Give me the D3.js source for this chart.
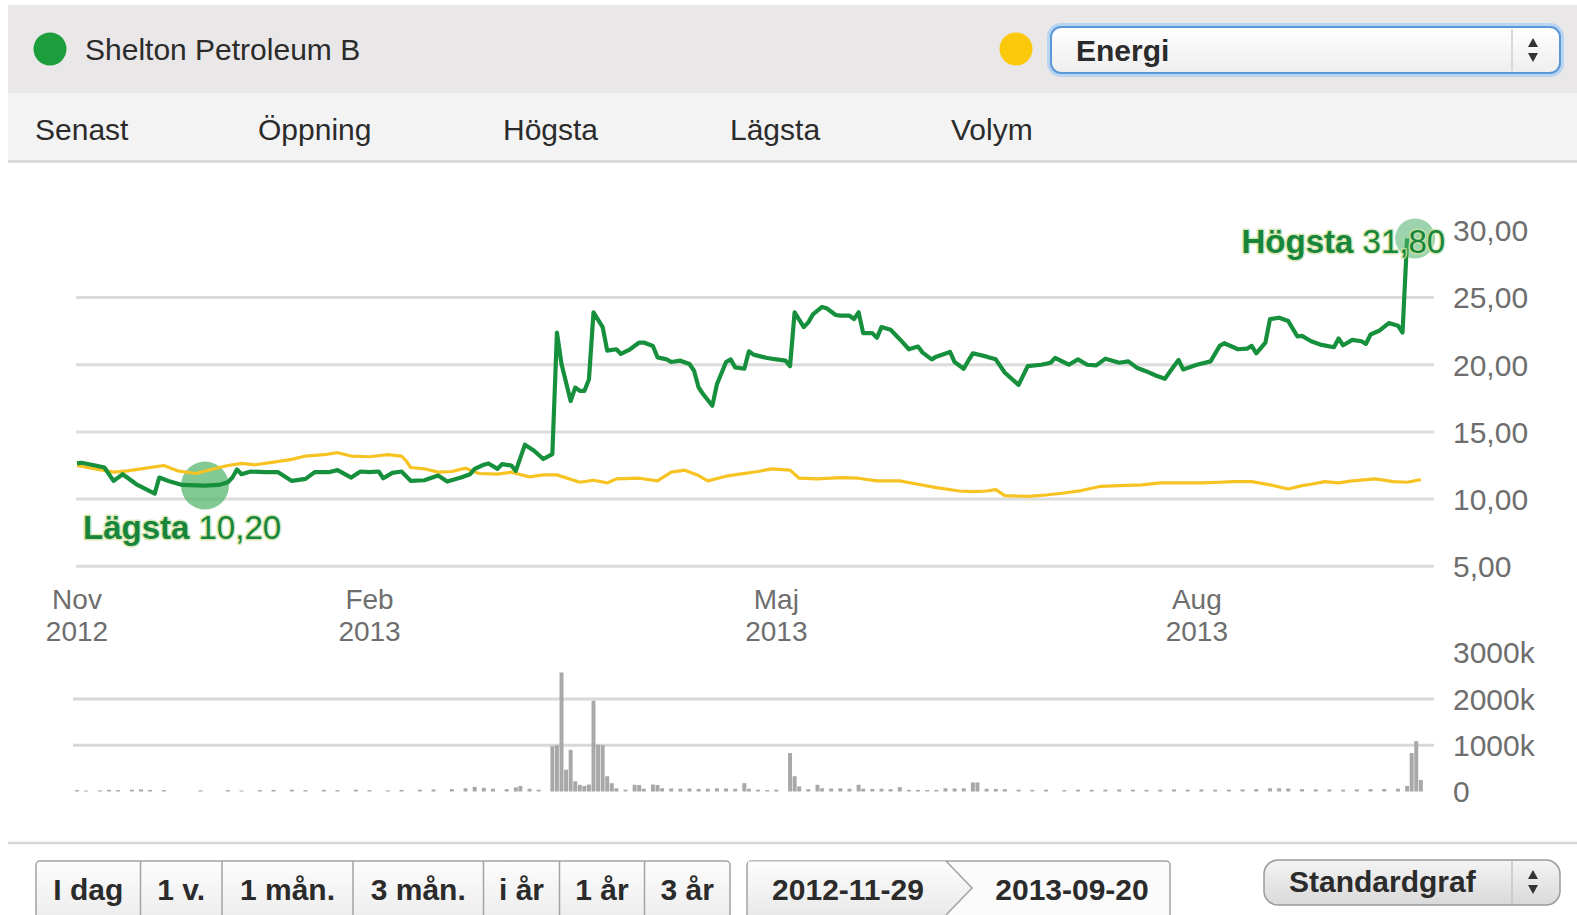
<!DOCTYPE html>
<html><head><meta charset="utf-8">
<script src="https://cdn.jsdelivr.net/npm/d3@7"></script>
<style>
html,body{margin:0;padding:0;background:#fff;}
svg{display:block;font-family:"Liberation Sans",Arial,Helvetica,sans-serif;}
</style></head><body>
<svg id="c" width="1577" height="915"></svg>
<script>
// ---------- data ----------
const startDate = "2012-11-29";
const endDate = "2013-09-20";
const stockName = "Shelton Petroleum B";
const indexName = "Energi";
const statLabels = ["Senast", "Öppning", "Högsta", "Lägsta", "Volym"];
const xTickDates = ["2012-11-29", "2013-02-01", "2013-05-01", "2013-08-01"];
const xTickMonths = ["Nov", "Feb", "Maj", "Aug"];
const xTickYears = ["2012", "2013", "2013", "2013"];
const priceTicks = [5, 10, 15, 20, 25, 30];
const priceGrid = [5, 10, 15, 20, 25];
const volumeTicks = [0, 1000, 2000, 3000];
const volumeGrid = [1000, 2000];

// day offsets from startDate, closing prices (SEK)
const greenDays = [0,1,4,6,8,10,13,17,18,20,23,28,31,33,34,35,36,38,41,44,47,50,52,55,57,60,62,64,66,67,69,71,73,76,79,81,84,86,87,89,90,92,93,95,96,98,100,102,104,105,106,108,109,110,111,112,113,115,116,118,119,121,123,124,126,127,129,130,132,134,135,136,137,139,140,142,143,144,146,147,148,151,153,155,156,157,159,160,161,163,164,166,167,169,170,171,172,174,175,176,178,180,182,184,185,187,188,191,192,194,195,196,199,201,203,206,208,211,213,214,217,219,221,223,225,228,230,232,234,236,238,240,241,242,245,248,250,251,253,254,256,257,258,260,261,263,265,267,268,270,272,275,276,277,279,281,282,283,285,287,289,290,291];
const greenClose = [12.65,12.7,12.5,12.35,11.35,11.85,11.1,10.4,11.6,11.35,11.05,11.0,11.05,11.25,11.6,12.2,11.85,12.05,12.0,12.0,11.35,11.5,12.0,12.0,12.15,11.6,12.05,12.0,12.05,11.55,11.95,12.05,11.35,11.4,11.75,11.3,11.6,11.85,12.25,12.55,12.65,12.25,12.6,12.5,12.1,14.05,13.6,12.98,13.35,22.4,20.05,17.3,18.3,18.05,18.05,18.9,23.9,22.8,21.05,21.15,20.8,21.15,21.65,21.65,21.4,20.55,20.4,20.2,20.3,20.05,19.55,18.3,17.8,16.95,18.55,20.2,20.4,19.8,19.7,21.0,20.75,20.5,20.4,20.3,19.9,23.9,22.8,23.15,23.75,24.3,24.2,23.7,23.65,23.65,23.4,23.9,22.35,22.35,22.0,22.8,22.6,21.9,21.15,21.35,20.9,20.4,20.6,20.95,20.2,19.7,20.3,20.85,20.6,20.4,19.4,18.5,19.9,20.0,20.15,20.5,20.0,20.4,20.0,19.95,20.45,20.15,20.25,19.75,19.5,19.2,18.95,19.9,20.35,19.65,20.0,20.25,21.4,21.6,21.3,21.15,21.2,21.4,20.85,21.65,23.4,23.5,23.25,22.1,22.15,21.75,21.5,21.3,21.95,21.45,21.85,21.75,21.55,22.25,22.55,23.1,22.9,22.4,29.4];

const yellowDays = [0,4,8,11,14,19,22,26,30,33,36,39,43,47,50,54,57,60,64,68,71,72,73,76,79,82,85,88,92,95,99,102,105,110,113,116,118,123,127,130,133,136,138,142,145,149,152,156,158,162,167,171,175,180,184,188,193,196,199,201,203,208,212,216,220,224,228,233,237,241,246,250,253,257,261,265,268,270,273,276,279,284,288,291,294];
const yellowClose = [12.5,12.25,12.0,12.1,12.25,12.5,12.1,11.9,12.25,12.5,12.65,12.55,12.75,12.95,13.2,13.3,13.45,13.2,13.15,13.3,13.2,12.85,12.35,12.25,12.0,12.05,12.3,11.9,11.85,12.0,11.65,11.8,11.8,11.25,11.4,11.2,11.5,11.55,11.35,12.0,12.15,11.75,11.35,11.7,11.85,12.05,12.25,12.15,11.55,11.5,11.6,11.55,11.35,11.35,11.1,10.85,10.6,10.55,10.6,10.7,10.25,10.2,10.3,10.45,10.65,10.95,11.0,11.05,11.2,11.2,11.2,11.25,11.3,11.3,11.05,10.75,11.0,11.1,11.3,11.2,11.35,11.5,11.3,11.25,11.45];

// traded volume (thousands of shares)
const volumeDays = [0,2,5,7,9,12,14,16,19,27,33,36,40,43,47,50,54,57,61,64,68,71,75,78,82,85,87,89,91,94,96,97,99,101,104,105,106,107,108,109,110,111,112,113,114,115,116,117,118,120,122,123,124,126,127,128,130,132,134,136,138,140,142,144,146,147,149,151,153,156,157,158,160,162,163,165,167,169,171,172,174,176,178,180,182,184,186,188,190,192,194,196,197,199,201,203,206,209,212,216,219,222,225,228,231,234,237,240,243,246,249,252,255,258,261,263,265,268,271,274,277,280,283,286,289,291,292,293,294];
const volumeK = [30,20,25,35,30,40,45,35,30,25,30,20,30,35,40,30,35,30,40,30,25,35,40,45,50,70,100,80,60,50,90,120,60,40,980,1000,2570,470,900,220,145,120,150,1960,1010,1000,330,180,70,40,145,140,60,150,140,70,65,60,65,55,60,70,65,60,180,60,40,30,40,830,330,110,50,145,70,65,70,60,145,60,55,60,50,95,35,35,30,35,70,65,70,195,195,60,55,50,40,35,40,30,40,35,40,45,40,35,40,45,40,45,40,40,45,50,70,70,65,50,45,45,40,45,50,55,60,120,830,1087,250];

const lowMark = {day: 28, label: "Lägsta", value: "10,20"};
const highMark = {day: 291, label: "Högsta", value: "31,80"};
const rangeButtons = ["I dag", "1 v.", "1 mån.", "3 mån.", "i år", "1 år", "3 år"];
const rangeFrom = "2012-11-29";
const rangeTo = "2013-09-20";
const chartType = "Standardgraf";

// ---------- drawing ----------
const svg = d3.select("#c");
const parse = d3.utcParse("%Y-%m-%d");
const t0 = parse(startDate);
const dayToDate = d => d3.utcDay.offset(t0, d);
const fmtComma = v => d3.format(".2f")(v).replace(".", ",");

const defs = svg.append("defs");
const g1 = defs.append("linearGradient").attr("id", "btn").attr("x1", 0).attr("x2", 0).attr("y1", 0).attr("y2", 1);
g1.append("stop").attr("offset", "0%").attr("stop-color", "#fdfdfd");
g1.append("stop").attr("offset", "100%").attr("stop-color", "#e9e9e9");
const g2 = defs.append("linearGradient").attr("id", "sel").attr("x1", 0).attr("x2", 0).attr("y1", 0).attr("y2", 1);
g2.append("stop").attr("offset", "0%").attr("stop-color", "#ffffff");
g2.append("stop").attr("offset", "100%").attr("stop-color", "#eeeeee");
const g3 = defs.append("linearGradient").attr("id", "std").attr("x1", 0).attr("x2", 0).attr("y1", 0).attr("y2", 1);
g3.append("stop").attr("offset", "0%").attr("stop-color", "#f4f4f4");
g3.append("stop").attr("offset", "100%").attr("stop-color", "#d9d9d9");

// header band
svg.append("rect").attr("x", 8).attr("y", 5).attr("width", 1569).attr("height", 88).attr("fill", "#e9e7e7");
svg.append("circle").attr("cx", 50).attr("cy", 49).attr("r", 16.5).attr("fill", "#1c9e3c");
svg.append("text").attr("x", 85).attr("y", 60).attr("font-size", 30).attr("fill", "#2b2b2b").text(stockName);
svg.append("circle").attr("cx", 1016).attr("cy", 49).attr("r", 16.5).attr("fill", "#fcc80c");
// Energi select
svg.append("rect").attr("x", 1049).attr("y", 25).attr("width", 513).attr("height", 50).attr("rx", 12)
  .attr("fill", "none").attr("stroke", "#b7d4f2").attr("stroke-width", 4);
svg.append("rect").attr("x", 1051).attr("y", 27).attr("width", 509).attr("height", 46).attr("rx", 10)
  .attr("fill", "url(#sel)").attr("stroke", "#5b98d6").attr("stroke-width", 2);
svg.append("line").attr("x1", 1512).attr("x2", 1512).attr("y1", 29).attr("y2", 71).attr("stroke", "#cfcfcf").attr("stroke-width", 1.5);
svg.append("text").attr("x", 1076).attr("y", 61).attr("font-size", 30).attr("font-weight", "bold").attr("fill", "#2b2b2b").text(indexName);
function arrows(cx, cy) {
  svg.append("path").attr("d", `M${cx - 5},${cy - 3} L${cx + 5},${cy - 3} L${cx},${cy - 12} Z`).attr("fill", "#333");
  svg.append("path").attr("d", `M${cx - 5},${cy + 3} L${cx + 5},${cy + 3} L${cx},${cy + 12} Z`).attr("fill", "#333");
}
arrows(1533, 50);

// stat tabs band
svg.append("rect").attr("x", 8).attr("y", 93).attr("width", 1569).attr("height", 68).attr("fill", "#f3f3f3");
svg.append("line").attr("x1", 8).attr("x2", 1577).attr("y1", 161.5).attr("y2", 161.5).attr("stroke", "#dadada").attr("stroke-width", 3);
const tabX = [35, 258, 503, 730, 951];
svg.selectAll("text.tab").data(statLabels).join("text").attr("class", "tab")
  .attr("x", (d, i) => tabX[i]).attr("y", 140).attr("font-size", 30).attr("fill", "#2b2b2b").text(d => d);

// scales
const x = d3.scaleUtc().domain([parse(startDate), parse(endDate)]).range([77, 1425.4]);
const y = d3.scaleLinear().domain([5, 30]).range([566.2, 230.4]);
const yv = d3.scaleLinear().domain([0, 3000]).range([791.5, 652.6]);
const gridX0 = 76, gridX1 = 1434;

// price grid
svg.append("g").selectAll("line").data(priceGrid).join("line")
  .attr("x1", gridX0).attr("x2", gridX1).attr("y1", d => y(d)).attr("y2", d => y(d))
  .attr("stroke", "#dcdcdc").attr("stroke-width", 3);
svg.append("g").selectAll("text").data(priceTicks).join("text")
  .attr("x", 1453).attr("y", d => y(d)).attr("dy", "0.36em").attr("font-size", 30).attr("fill", "#6e6e6e")
  .text(d => fmtComma(d));

// x axis labels (two lines)
const xt = svg.append("g");
xTickDates.forEach((d, i) => {
  const xx = x(parse(d));
  xt.append("text").attr("x", xx).attr("y", 609).attr("text-anchor", "middle").attr("font-size", 28).attr("fill", "#6e6e6e").text(xTickMonths[i]);
  xt.append("text").attr("x", xx).attr("y", 641).attr("text-anchor", "middle").attr("font-size", 28).attr("fill", "#6e6e6e").text(xTickYears[i]);
});

// volume grid
svg.append("g").selectAll("line").data(volumeGrid).join("line")
  .attr("x1", 73).attr("x2", gridX1).attr("y1", d => yv(d)).attr("y2", d => yv(d))
  .attr("stroke", "#d8d8d8").attr("stroke-width", 3);
svg.append("g").selectAll("text").data(volumeTicks).join("text")
  .attr("x", 1453).attr("y", d => yv(d)).attr("dy", "0.36em").attr("font-size", 30).attr("fill", "#6e6e6e")
  .text(d => d === 0 ? "0" : d + "k");

// volume bars
const vol = volumeDays.map((d, i) => ({date: dayToDate(d), v: volumeK[i]}));
const bw = x(dayToDate(1)) - x(dayToDate(0)) - 0.6;
svg.append("g").selectAll("rect").data(vol).join("rect")
  .attr("x", d => x(d.date) - bw / 2).attr("width", bw)
  .attr("y", d => yv(d.v)).attr("height", d => yv(0) - yv(d.v))
  .attr("fill", "#a8a8a8");

// lines
const green = greenDays.map((d, i) => ({date: dayToDate(d), v: greenClose[i]}));
const yellow = yellowDays.map((d, i) => ({date: dayToDate(d), v: yellowClose[i]}));
const line = d3.line().x(d => x(d.date)).y(d => y(d.v));

const lowPt = green[greenDays.indexOf(lowMark.day)];
const highPt = green[greenDays.indexOf(highMark.day)];
svg.append("circle").attr("cx", x(lowPt.date)).attr("cy", y(lowPt.v)).attr("r", 24).attr("fill", "#4db267").attr("fill-opacity", 0.7);

svg.append("path").datum(yellow).attr("d", line).attr("fill", "none")
  .attr("stroke", "#f6c322").attr("stroke-width", 3.2).attr("stroke-linejoin", "round");
svg.append("path").datum(green).attr("d", line).attr("fill", "none")
  .attr("stroke", "#16903d").attr("stroke-width", 4.2).attr("stroke-linejoin", "round");

svg.append("circle").attr("cx", x(highPt.date) + 8).attr("cy", y(highPt.v)).attr("r", 20).attr("fill", "#4cb06a").attr("fill-opacity", 0.55);

function markLabel(xx, yy, anchor, lab, val) {
  const t = svg.append("text").attr("x", xx).attr("y", yy).attr("text-anchor", anchor)
    .attr("font-size", 33).attr("fill", "#17853b")
    .attr("stroke", "#cfe3a2").attr("stroke-width", 3).attr("stroke-opacity", 0.8)
    .attr("paint-order", "stroke").attr("stroke-linejoin", "round");
  t.append("tspan").attr("font-weight", "bold").text(lab);
  t.append("tspan").text(" " + val);
}
markLabel(x(lowPt.date) - 122, y(lowPt.v) + 53, "start", lowMark.label, lowMark.value);
markLabel(x(highPt.date) + 38, y(highPt.v) + 15, "end", highMark.label, highMark.value);

// bottom controls
svg.append("line").attr("x1", 8).attr("x2", 1577).attr("y1", 843).attr("y2", 843).attr("stroke", "#d6d6d6").attr("stroke-width", 2.5);
const edges = [36, 140.5, 222, 353, 483.5, 559.5, 644.5, 730];
svg.append("rect").attr("x", 36).attr("y", 861).attr("width", 694).attr("height", 70).attr("rx", 4)
  .attr("fill", "url(#btn)").attr("stroke", "#a3a3a3").attr("stroke-width", 1.5);
edges.slice(1, -1).forEach(e => svg.append("line").attr("x1", e).attr("x2", e).attr("y1", 861).attr("y2", 915).attr("stroke", "#a3a3a3").attr("stroke-width", 1.5));
svg.selectAll("text.btn").data(rangeButtons).join("text").attr("class", "btn")
  .attr("x", (d, i) => (edges[i] + edges[i + 1]) / 2).attr("y", 900).attr("text-anchor", "middle")
  .attr("font-size", 30).attr("font-weight", "bold").attr("fill", "#2b2b2b").text(d => d);

// date range box
svg.append("rect").attr("x", 747).attr("y", 861).attr("width", 423).attr("height", 70).attr("rx", 4)
  .attr("fill", "#fbfbfb").attr("stroke", "#a3a3a3").attr("stroke-width", 1.5);
svg.append("path").attr("d", "M748,861.5 L946,861.5 L972,888 L946,915 L748,915 Z").attr("fill", "url(#btn)");
svg.append("path").attr("d", "M946,861 L972,888 L946,915").attr("fill", "none").attr("stroke", "#a3a3a3").attr("stroke-width", 1.5);
svg.append("text").attr("x", 848).attr("y", 900).attr("text-anchor", "middle").attr("font-size", 30).attr("font-weight", "bold").attr("fill", "#2b2b2b").text(rangeFrom);
svg.append("text").attr("x", 1072).attr("y", 900).attr("text-anchor", "middle").attr("font-size", 30).attr("font-weight", "bold").attr("fill", "#2b2b2b").text(rangeTo);

// chart type select
svg.append("rect").attr("x", 1264).attr("y", 860).attr("width", 296).attr("height", 45).attr("rx", 14)
  .attr("fill", "url(#std)").attr("stroke", "#9a9a9a").attr("stroke-width", 1.5);
svg.append("line").attr("x1", 1512).attr("x2", 1512).attr("y1", 861).attr("y2", 904).attr("stroke", "#c4c4c4").attr("stroke-width", 1.5);
svg.append("text").attr("x", 1289).attr("y", 892).attr("font-size", 30).attr("font-weight", "bold").attr("fill", "#2b2b2b").text(chartType);
arrows(1533, 882);
</script>
</body></html>
